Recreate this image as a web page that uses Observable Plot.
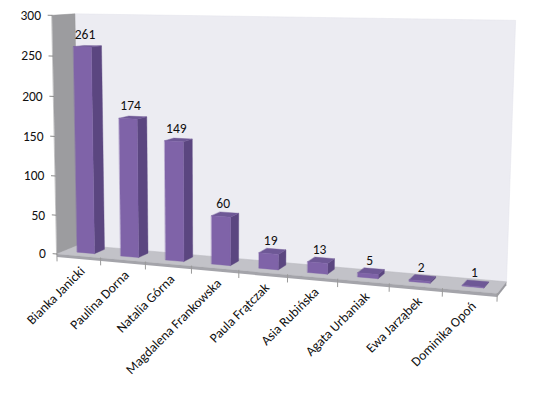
<!DOCTYPE html>
<html>
<head>
<meta charset="utf-8">
<script src="https://cdn.jsdelivr.net/npm/d3@7"></script>
<script src="https://cdn.jsdelivr.net/npm/@observablehq/plot@0.6"></script>
<style>
  html, body { margin: 0; padding: 0; background: #fff; }
  #chart { width: 538px; height: 395px; }
</style>
</head>
<body>
<div id="chart"></div>
<script>
// ---- data ----
const names = ["Bianka Janicki", "Paulina Dorna", "Natalia Górna", "Magdalena Frankowska", "Paula Frątczak", "Asia Rubińska", "Agata Urbaniak", "Ewa Jarząbek", "Dominika Opoń"];
const values = [261, 174, 149, 60, 19, 13, 5, 2, 1];
const yTicks = [0, 50, 100, 150, 200, 250, 300];
const yMax = 300;

// ---- 3D layout: world (X = category units, Y = value, Z = depth 0 front..1 back) ----
const nCat = names.length;
const barWidth = 0.4;       // fraction of category
const zFront = 0.33, zBack = 0.8;
const floorThick = 4;       // in value units

// camera calibration pairs: [X, Y, Z, screenX, screenY]
const calib = [
  [0, 0, 0, 58, 253], [9, 0, 0, 497, 293], [0, 0, 1, 77, 245], [9, 0, 1, 506, 281],
  [0, 300, 0, 50, 15], [0, 300, 1, 76, 13], [9, 300, 1, 515, 20],
  [4, 0, 0, 238, 270], [8, 0, 0, 442, 288], [0, 150, 0, 54, 136]
];

function fitCamera(pairs) {
  const sx = nCat, sy = yMax, s = 100;
  const A = [], b = [];
  for (const [X0, Y0, Z, u0, v0] of pairs) {
    const X = X0 / sx, Y = Y0 / sy, u = u0 / s, v = v0 / s;
    A.push([X, Y, Z, 1, 0, 0, 0, 0, -u * X, -u * Y, -u * Z]); b.push(u);
    A.push([0, 0, 0, 0, X, Y, Z, 1, -v * X, -v * Y, -v * Z]); b.push(v);
  }
  const n = 11;
  const M = Array.from({length: n}, () => new Array(n + 1).fill(0));
  for (let r = 0; r < A.length; r++) for (let i = 0; i < n; i++) {
    for (let j = 0; j < n; j++) M[i][j] += A[r][i] * A[r][j];
    M[i][n] += A[r][i] * b[r];
  }
  for (let c = 0; c < n; c++) {
    let p = c;
    for (let r = c + 1; r < n; r++) if (Math.abs(M[r][c]) > Math.abs(M[p][c])) p = r;
    [M[c], M[p]] = [M[p], M[c]];
    for (let r = 0; r < n; r++) {
      if (r === c) continue;
      const f = M[r][c] / M[c][c];
      for (let j = c; j <= n; j++) M[r][j] -= f * M[c][j];
    }
  }
  const q = M.map((row, i) => row[n] / row[i]);
  return (X0, Y0, Z) => {
    const X = X0 / sx, Y = Y0 / sy;
    const w = q[8] * X + q[9] * Y + q[10] * Z + 1;
    return [s * (q[0] * X + q[1] * Y + q[2] * Z + q[3]) / w, s * (q[4] * X + q[5] * Y + q[6] * Z + q[7]) / w];
  };
}
const cam = fitCamera(calib);
const projection = d3.geoTransform({
  point(x, y, z) { const [px, py] = cam(x, y, z ?? 0); this.stream.point(px, py); }
});

const poly = (pts) => ({type: "Polygon", coordinates: [[...pts, pts[0]]]});
const pt = (x, y, z) => ({type: "Point", coordinates: [x, y, z]});
const seg = (a, b) => ({type: "LineString", coordinates: [a, b]});

// ---- scene geometry derived from data ----
const bars = values.map((v, i) => {
  const x0 = i + 0.5 - barWidth / 2, x1 = i + 0.5 + barWidth / 2;
  return {
    name: names[i], value: v,
    front: poly([[x0, 0, zFront], [x1, 0, zFront], [x1, v, zFront], [x0, v, zFront]]),
    side: poly([[x1, 0, zFront], [x1, 0, zBack], [x1, v, zBack], [x1, v, zFront]]),
    top: poly([[x0, v, zFront], [x1, v, zFront], [x1, v, zBack], [x0, v, zBack]]),
    label: pt(i + 0.5, v, zFront + 0.12),
    cat: pt(i + 0.5, 0, 0)
  };
});
const backWall = poly([[0, 0, 1], [nCat, 0, 1], [nCat, yMax, 1], [0, yMax, 1]]);
const leftWall = poly([[0, 0, 0], [0, 0, 1], [0, yMax, 1], [0, yMax, 0]]);
const floorTop = poly([[0, 0, 0], [nCat, 0, 0], [nCat, 0, 1], [0, 0, 1]]);
const floorFront = poly([[0, -floorThick, 0], [nCat, -floorThick, 0], [nCat, 0, 0], [0, 0, 0]]);
const floorRight = poly([[nCat, -floorThick, 0], [nCat, -floorThick, 1], [nCat, 0, 1], [nCat, 0, 0]]);
const catTicks = d3.range(nCat + 1).map(i => seg([i, 0, 0], [i, -9, 0]));
const valTicks = yTicks.map(t => seg([-0.09, t, 0], [0, t, 0]));

const font = "Calibri, Carlito, Lato, sans-serif";

const chart = Plot.plot({
  width: 538,
  height: 395,
  margin: 0,
  projection,
  style: {background: "#fff", fontFamily: font},
  marks: [
    Plot.geo([backWall], {fill: "#ECECF2", stroke: "#E2E2EA", strokeWidth: 0.5}),
    Plot.geo([leftWall], {fill: "#9C9C9F", stroke: "#929295", strokeWidth: 0.5}),
    Plot.geo([floorTop], {fill: "#C2C2C8", stroke: "#B8B8BE", strokeWidth: 0.5}),
    Plot.geo([floorFront], {fill: "#A4A4AA"}),
    Plot.geo([floorRight], {fill: "#9A9AA0"}),
    Plot.geo(catTicks, {stroke: "#9A9A9A", strokeWidth: 1}),
    Plot.geo(valTicks, {stroke: "#8A8A8A", strokeWidth: 1}),
    Plot.geo(bars, {geometry: "side", fill: "#5B4680", stroke: "#5B4680", strokeWidth: 0.4}),
    Plot.geo(bars, {geometry: "top", fill: "#6E5896", stroke: "#6E5896", strokeWidth: 0.4}),
    Plot.geo(bars, {geometry: "front", fill: "#7F63A8", stroke: "#7F63A8", strokeWidth: 0.4}),
    Plot.text(bars, Plot.centroid({geometry: "label", text: d => String(d.value), dy: -12, fontSize: 13.5, fill: "#111"})),
    Plot.text(yTicks, Plot.centroid({geometry: t => pt(0, t, 0), text: t => String(t), textAnchor: "end", dx: -11, fontSize: 13.5, fill: "#111"})),
    Plot.text(bars, Plot.centroid({geometry: "cat", text: "name", textAnchor: "end", rotate: -45, dx: 4, dy: 13, fontSize: 13.5, fill: "#111"}))
  ]
});
document.getElementById("chart").appendChild(chart);
</script>
</body>
</html>
